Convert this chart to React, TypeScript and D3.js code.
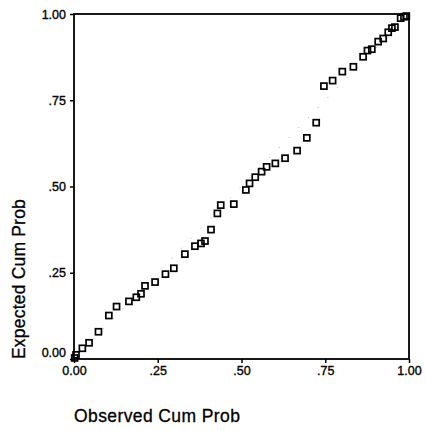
import * as d3 from "d3";
import { useEffect, useRef } from "react";

// observed cumulative probability (x) and expected cumulative probability (y)
const observed = [
  0.002, 0.006, 0.025, 0.045, 0.073, 0.104, 0.127, 0.164, 0.186, 0.2, 0.212,
  0.242, 0.273, 0.298, 0.331, 0.361, 0.379, 0.391, 0.409, 0.428, 0.438, 0.477,
  0.513, 0.524, 0.541, 0.56, 0.575, 0.601, 0.63, 0.666, 0.695, 0.723, 0.746,
  0.772, 0.801, 0.834, 0.863, 0.876, 0.889, 0.908, 0.923, 0.938, 0.949, 0.958,
  0.975, 0.985, 0.992,
];
const expected = [
  0.003, 0.012, 0.031, 0.047, 0.079, 0.126, 0.152, 0.167, 0.179, 0.189, 0.212,
  0.223, 0.246, 0.263, 0.304, 0.327, 0.335, 0.342, 0.375, 0.422, 0.446, 0.449,
  0.49, 0.509, 0.527, 0.543, 0.557, 0.567, 0.582, 0.604, 0.641, 0.685, 0.791,
  0.807, 0.833, 0.847, 0.876, 0.894, 0.898, 0.92, 0.929, 0.947, 0.959, 0.962,
  0.988, 0.992, 0.994,
];
const tickValues = [0, 0.25, 0.5, 0.75, 1];
const tickLabels = ["0.00", ".25", ".50", ".75", "1.00"];

const width = 426;
const height = 431;
const margin = { top: 14, right: 17, bottom: 72, left: 74 };

const App = () => {
  const svgRef = useRef(null);

  useEffect(() => {
    document.body.style.margin = "0";
    const svg = d3.select(svgRef.current);
    svg.selectAll("*").remove();

    const x = d3
      .scaleLinear()
      .domain([0, 1])
      .range([margin.left, width - margin.right]);
    const y = d3
      .scaleLinear()
      .domain([0, 1])
      .range([height - margin.bottom, margin.top]);

    const font = "'Liberation Sans', Arial, sans-serif";

    // faint diagonal reference line
    svg
      .append("line")
      .attr("x1", x(0))
      .attr("y1", y(0))
      .attr("x2", x(1))
      .attr("y2", y(1))
      .attr("stroke", "#888")
      .attr("stroke-width", 0.8)
      .attr("stroke-dasharray", "1 13");

    // frame
    svg
      .append("rect")
      .attr("x", x(0))
      .attr("y", y(1))
      .attr("width", x(1) - x(0))
      .attr("height", y(0) - y(1))
      .attr("fill", "none")
      .attr("stroke", "#000")
      .attr("stroke-width", 1.8);

    // x axis
    const xAxis = svg
      .append("g")
      .attr("transform", `translate(0, ${y(0)})`)
      .call(
        d3
          .axisBottom(x)
          .tickValues(tickValues)
          .tickFormat((d, i) => tickLabels[i])
          .tickSize(4)
          .tickPadding(3)
      );
    xAxis.select(".domain").remove();
    xAxis.selectAll("line").attr("stroke-width", 1.5);
    xAxis
      .selectAll("text")
      .attr("font-family", font)
      .attr("font-size", 12.5)
      .attr("fill", "#000")
      .attr("stroke", "#000")
      .attr("stroke-width", 0.35);

    // y axis
    const yAxis = svg
      .append("g")
      .attr("transform", `translate(${x(0)}, 0)`)
      .call(
        d3
          .axisLeft(y)
          .tickValues(tickValues)
          .tickFormat((d, i) => tickLabels[i])
          .tickSize(4)
          .tickPadding(4)
      );
    yAxis.select(".domain").remove();
    yAxis.selectAll("line").attr("stroke-width", 1.5);
    yAxis
      .selectAll("text")
      .attr("font-family", font)
      .attr("font-size", 12.5)
      .attr("fill", "#000")
      .attr("stroke", "#000")
      .attr("stroke-width", 0.35)
      .attr("dy", (d) => (d === 0 ? "-0.2em" : "0.32em"));

    // points
    const points = observed.map((o, i) => ({ o, e: expected[i] }));
    const s = 6;
    svg
      .append("g")
      .selectAll("rect")
      .data(points)
      .enter()
      .append("rect")
      .attr("x", (d) => x(d.o) - s / 2)
      .attr("y", (d) => y(d.e) - s / 2)
      .attr("width", s)
      .attr("height", s)
      .attr("fill", "none")
      .attr("stroke", "#000")
      .attr("stroke-width", 1.7);

    // axis titles
    svg
      .append("text")
      .attr("x", x(0))
      .attr("y", 422)
      .attr("font-family", font)
      .attr("font-size", 17.5)
      .attr("letter-spacing", 0.4)
      .attr("fill", "#000")
      .attr("stroke", "#000")
      .attr("stroke-width", 0.3)
      .text("Observed Cum Prob");

    svg
      .append("text")
      .attr("transform", `translate(25, ${y(0)}) rotate(-90)`)
      .attr("font-family", font)
      .attr("font-size", 17.5)
      .attr("letter-spacing", 0.2)
      .attr("fill", "#000")
      .attr("stroke", "#000")
      .attr("stroke-width", 0.3)
      .text("Expected Cum Prob");
  }, []);

  return (
    <svg
      ref={svgRef}
      width={width}
      height={height}
      style={{ display: "block", background: "#fff" }}
    ></svg>
  );
};

export default App;
